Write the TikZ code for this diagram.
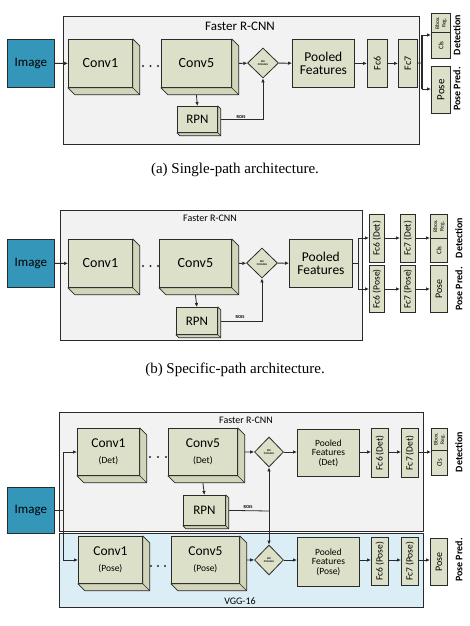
\documentclass[tikz,border=0pt]{standalone}
\usepackage{graphicx}
\usepackage{fontspec}
\setmainfont{Carlito}
\newfontfamily\capfont{Liberation Serif}
\usetikzlibrary{arrows.meta,calc,shapes.geometric}
\definecolor{boxc}{HTML}{DDE0C8}
\definecolor{sidec}{HTML}{D2D5BA}
\definecolor{lc}{HTML}{2A2A2A}
\definecolor{imgc}{HTML}{3497BA}
\definecolor{frameg}{HTML}{F2F2F2}
\definecolor{frameb}{HTML}{DCEEF5}
\newcommand\fs[1]{\fontsize{#1}{#1}\selectfont}
\newcommand\extr[2]{%
  \filldraw[fill=sidec, draw=lc, line width=0.7pt, line join=round]
    (#1.north east) -- ++(#2,#2) -- ($(#1.south east)+(#2,#2)$) -- ($(#1.south west)+(#2,#2)$)
    -- (#1.south west) -- (#1.south east) -- cycle;
  \draw[lc, line width=0.5pt] (#1.south east) -- ++(#2,#2);}
\tikzset{
  blk/.style={draw=lc, fill=boxc, line width=0.8pt, inner sep=0pt, anchor=north west, align=center},
  frm/.style={draw=lc, line width=0.8pt, inner sep=0pt, anchor=north west},
  img/.style={draw=lc, fill=imgc, line width=0.7pt, inner sep=0pt, anchor=north west, font=\fs{13}},
  roi/.style={diamond, draw=lc, fill=boxc, line width=0.8pt, inner sep=0pt, align=center, font=\fs{2.6}\bfseries},
  arr/.style={-{Latex[length=4pt,width=3.6pt]}, line width=0.8pt, draw=lc},
  ln/.style={line width=0.8pt, draw=lc},
  side/.style={rotate=90, font=\fs{10}\bfseries, inner sep=0pt},
  captext/.style={font=\capfont\fs{15}, inner sep=0pt},
  dotc/.style={fill=lc},
}
\begin{document}
\begin{tikzpicture}[x=1pt,y=-1pt]
\useasboundingbox[fill=white] (0,0) rectangle (469,626);

%% ===================== (a) =====================
\node[frm, fill=frameg, minimum width=356, minimum height=128] (fa) at (63,16) {};
\node[font=\fs{13}] (ta) at (240,26) {Faster R-CNN};
\node[img, minimum width=47, minimum height=48] (ia) at (7,39) {Image};
\node[blk, minimum width=64, minimum height=48, font=\fs{14}] (c1a) at (68,39) {Conv1};
\extr{c1a}{7}
\fill[dotc] (143,66) circle (1.2) (150.5,66) circle (1.2) (158,66) circle (1.2);
\node[blk, minimum width=70, minimum height=48, font=\fs{14}] (c5a) at (161,39) {Conv5};
\extr{c5a}{7}
\node[roi, minimum width=31, minimum height=30] (da) at (263,63) {ROI\\POOLING};
\node[blk, minimum width=62, minimum height=48, font=\fs{13.5}] (pa) at (292,39) {Pooled\\Features};
\node[blk, minimum width=20, minimum height=48, font=\fs{10}] (f6a) at (367,39) {\rotatebox{90}{Fc6}};
\node[blk, minimum width=19, minimum height=48, font=\fs{10}] (f7a) at (398,39) {\rotatebox{90}{Fc7}};
\node[blk, minimum width=19, minimum height=19, font=\fs{5.5}] (bba) at (431,13) {\rotatebox{90}{\shortstack{Bbox.\\Reg.}}};
\node[blk, minimum width=19, minimum height=26, font=\fs{7}] (cla) at (431,32) {\rotatebox{90}{Cls}};
\node[blk, minimum width=19, minimum height=47, font=\fs{11}] (psa) at (431,66) {\rotatebox{90}{Pose}};
\node[side] (deta) at (457,35) {Detection};
\node[side] (ppa) at (457,89) {Pose Pred.};
\node[blk, minimum width=40, minimum height=26, font=\fs{13}] (ra) at (177,106) {RPN};
\extr{ra}{3}
\node[font=\fs{4.5}\bfseries] (rla) at (241,117) {ROIS};
\coordinate (ja1) at (422,35);
\coordinate (ja2) at (422,89);
\coordinate (jam) at (422,63);
\draw[arr] (ia) -- (c1a);
\draw[arr] ($(c5a.east)+(7,0)$) -- (da);
\draw[arr] (da) -- (pa);
\draw[arr] (pa) -- (f6a);
\draw[arr] (f6a) -- (f7a);
\draw[ln] (f7a) -- (jam);
\draw[line width=1.8pt, draw=lc] (ja1) -- (ja2);
\draw[arr] (ja1) -- (ja1 -| cla.west);
\draw[arr] (ja2) -- (ja2 -| psa.west);
\draw[arr] ($(c5a.south)+(0,7)$) -- (ra.north);
\draw[arr] ($(ra.east)+(3,0)$) -| (da.south);
\node[captext] (capa) at (235,170) {(a) Single-path architecture.};

%% ===================== (b) =====================
\node[frm, fill=frameg, minimum width=302, minimum height=130] (fb) at (60,210) {};
\node[font=\fs{10}] (tb) at (210,218) {Faster R-CNN};
\node[img, minimum width=47, minimum height=48] (ib) at (7,239) {Image};
\node[blk, minimum width=64, minimum height=48, font=\fs{14}] (c1b) at (68,239) {Conv1};
\extr{c1b}{7}
\fill[dotc] (143,266) circle (1.2) (150.5,266) circle (1.2) (158,266) circle (1.2);
\node[blk, minimum width=72, minimum height=48, font=\fs{14}] (c5b) at (159,239) {Conv5};
\extr{c5b}{7}
\node[roi, minimum width=31, minimum height=30] (db) at (262,263) {ROI\\POOLING};
\node[blk, minimum width=63, minimum height=48, font=\fs{13.5}] (pb) at (289,239) {Pooled\\Features};
\node[blk, minimum width=15, minimum height=48, font=\fs{9.5}] (f6db) at (369,214) {\rotatebox{90}{Fc6 (Det)}};
\node[blk, minimum width=15, minimum height=48, font=\fs{9.5}] (f7db) at (400,214) {\rotatebox{90}{Fc7 (Det)}};
\node[blk, minimum width=17, minimum height=24, font=\fs{5.5}] (bbb) at (430,214) {\rotatebox{90}{\shortstack{Bbox.\\Reg.}}};
\node[blk, minimum width=17, minimum height=24, font=\fs{7}] (clb) at (430,238) {\rotatebox{90}{Cls}};
\node[blk, minimum width=15, minimum height=47, font=\fs{9.5}] (f6pb) at (369,265) {\rotatebox{90}{Fc6 (Pose)}};
\node[blk, minimum width=15, minimum height=47, font=\fs{9.5}] (f7pb) at (400,265) {\rotatebox{90}{Fc7 (Pose)}};
\node[blk, minimum width=17, minimum height=47, font=\fs{10}] (psb) at (430,265) {\rotatebox{90}{Pose}};
\node[side] (detb) at (459,238) {Detection};
\node[side] (ppb) at (459,289) {Pose Pred.};
\node[blk, minimum width=41, minimum height=27, font=\fs{13}] (rb) at (176,307) {RPN};
\extr{rb}{3}
\node[font=\fs{4.5}\bfseries] (rlb) at (240,317) {ROIS};
\coordinate (jb) at (358,263);
\coordinate (jb1) at (358,238);
\coordinate (jb2) at (358,289);
\draw[arr] (ib) -- (c1b);
\draw[arr] ($(c5b.east)+(7,0)$) -- (db);
\draw[arr] (db) -- (pb);
\draw[ln] (pb.east |- jb) -- (jb);
\draw[ln] (jb1) -- (jb2);
\draw[arr] (jb1) -- (jb1 -| f6db.west);
\draw[arr] (jb2) -- (jb2 -| f6pb.west);
\draw[arr] (f6db.east |- jb1) -- (f7db.west |- jb1);
\draw[arr] (f7db.east |- jb1) -- (bbb.west |- jb1);
\draw[arr] (f6pb.east |- jb2) -- (f7pb.west |- jb2);
\draw[arr] (f7pb.east |- jb2) -- (psb.west |- jb2);
\draw[arr] ($(c5b.south)+(0,7)$) -- (rb.north);
\draw[arr] ($(rb.east)+(3,0)$) -| (db.south);
\node[captext] (capb) at (235,370) {(b) Specific-path architecture.};

%% ===================== (c) =====================
\node[frm, fill=frameg, minimum width=364, minimum height=119] (fc) at (59,412) {};
\node[frm, fill=frameb, minimum width=364, minimum height=74] (fv) at (59,533) {};
\node[font=\fs{10}] (tc) at (246,420) {Faster R-CNN};
\node[font=\fs{10}] (tv) at (240,601) {VGG-16};
\node[img, minimum width=47, minimum height=46] (ic) at (7,487) {Image};
\node[blk, minimum width=62, minimum height=47] (c1d) at (77,428) {{\fs{13.5}Conv1}\\[4pt]{\fs{9.5}(Det)}};
\extr{c1d}{7}
\fill[dotc] (150,457) circle (1.2) (158,457) circle (1.2) (166,457) circle (1.2);
\node[blk, minimum width=69, minimum height=47] (c5d) at (168,428) {{\fs{13.5}Conv5}\\[4pt]{\fs{9.5}(Det)}};
\extr{c5d}{7}
\node[roi, minimum width=29, minimum height=30] (dd) at (269,452) {ROI\\POOLING};
\node[blk, minimum width=62, minimum height=47, font=\fs{9.5}] (pd) at (297,429) {Pooled\\Features\\(Det)};
\node[blk, minimum width=17, minimum height=49, font=\fs{9.5}] (f6d) at (371,428) {\rotatebox{90}{Fc6 (Det)}};
\node[blk, minimum width=17, minimum height=49, font=\fs{9.5}] (f7d) at (401,428) {\rotatebox{90}{Fc7 (Det)}};
\node[blk, minimum width=16, minimum height=22, font=\fs{5.5}] (bbd) at (431,428) {\rotatebox{90}{\shortstack{Bbox.\\Reg.}}};
\node[blk, minimum width=16, minimum height=25, font=\fs{7}] (cld) at (431,450) {\rotatebox{90}{Cls}};
\node[side] (detc) at (459,452) {Detection};
\node[blk, minimum width=42, minimum height=30, font=\fs{13}] (rc) at (183,495) {RPN};
\extr{rc}{3}
\node[font=\fs{4.5}\bfseries] (rlc) at (248,507) {ROIS};
\node[blk, minimum width=64, minimum height=47] (c1p) at (78,536) {{\fs{13.5}Conv1}\\[4pt]{\fs{9.5}(Pose)}};
\extr{c1p}{7}
\fill[dotc] (151,566) circle (1.2) (158,566) circle (1.2) (165,566) circle (1.2);
\node[blk, minimum width=68, minimum height=47] (c5p) at (171,536) {{\fs{13.5}Conv5}\\[4pt]{\fs{9.5}(Pose)}};
\extr{c5p}{7}
\node[roi, minimum width=29, minimum height=30] (dp) at (269,560) {ROI\\POOLING};
\node[blk, minimum width=62, minimum height=49, font=\fs{9.5}] (pp) at (297,537) {Pooled\\Features\\(Pose)};
\node[blk, minimum width=17, minimum height=48, font=\fs{9.5}] (f6p) at (371,537) {\rotatebox{90}{Fc6 (Pose)}};
\node[blk, minimum width=17, minimum height=48, font=\fs{9.5}] (f7p) at (401,537) {\rotatebox{90}{Fc7 (Pose)}};
\node[blk, minimum width=17, minimum height=47, font=\fs{10}] (psp) at (430,538) {\rotatebox{90}{Pose}};
\node[side] (ppc) at (459,560) {Pose Pred.};
\coordinate (jc) at (63,510);
\coordinate (jc1) at (63,452);
\coordinate (jc2) at (63,560);
\coordinate (jr) at (269,511);
\draw[ln] (ic.east |- jc) -- (jc);
\draw[ln] (jc1) -- (jc2);
\draw[arr] (jc1) -- (jc1 -| c1d.west);
\draw[arr] (jc2) -- (jc2 -| c1p.west);
\draw[arr] ($(c5d.east)+(7,0)$) -- (dd);
\draw[arr] (dd) -- (pd.west |- dd);
\draw[arr] (pd.east |- dd) -- (f6d.west |- dd);
\draw[arr] (f6d.east |- dd) -- (f7d.west |- dd);
\draw[arr] (f7d.east |- dd) -- (cld.west |- dd);
\draw[arr] ($(c5p.east)+(7,0)$) -- (dp);
\draw[arr] (dp) -- (pp.west |- dp);
\draw[arr] (pp.east |- dp) -- (f6p.west |- dp);
\draw[arr] (f6p.east |- dp) -- (f7p.west |- dp);
\draw[arr] (f7p.east |- dp) -- (psp.west |- dp);
\draw[arr] ($(c5d.south)+(0,7)$) -- (rc.north);
\draw[ln] ($(rc.east)+(3,0)$) -- (jr);
\draw[{Latex[length=4pt,width=3.6pt]}-{Latex[length=4pt,width=3.6pt]}, line width=0.8pt, draw=lc] (dd.south) -- (dp.north);
\end{tikzpicture}
\end{document}
